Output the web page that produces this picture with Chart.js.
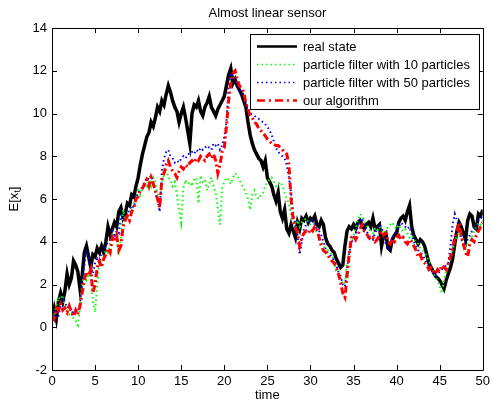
<!DOCTYPE html>
<html>
<head>
<meta charset="utf-8">
<script src="https://cdn.jsdelivr.net/npm/chart.js@4.4.0/dist/chart.umd.min.js"></script>
<style>
html,body{margin:0;padding:0;background:#fff;}
#wrap{width:494px;height:402px;}
</style>
</head>
<body>
<div id="wrap"><canvas id="c" width="494" height="402"></canvas></div>
<script>
// sample times (step 0.25)
const TIME = [];
for (let i = 0; i <= 200; i++) TIME.push(i * 0.25);

const X_TICKS = [0,5,10,15,20,25,30,35,40,45,50];
const Y_TICKS = [-2,0,2,4,6,8,10,12,14];
const SERIES_NAMES = ["real state","particle filter with 10 particles","particle filter with 50 particles","our algorithm"];
const TITLE = "Almost linear sensor";
const X_LABEL = "time";

const REAL_STATE = [
0.5,0.9,0.4,1.2,1.6,1.2,1.7,2.5,2.0,2.3,3.1,2.9,2.6,1.8,2.4,3.5,3.8,3.3,2.8,3.4,
3.3,3.7,3.5,3.8,3.5,4.0,4.7,4.3,4.6,4.9,4.7,5.4,5.6,5.1,5.3,5.8,5.7,6.2,6.1,6.6,
7.0,7.6,8.1,8.5,8.9,9.1,9.6,9.4,9.8,10.3,10.1,10.6,10.4,10.9,11.3,11.0,10.6,10.3,10.1,9.6,
10.0,10.3,9.8,9.2,8.6,10.0,10.4,10.3,10.6,10.1,9.9,10.3,10.5,10.8,10.3,10.1,9.9,10.2,10.4,10.6,
10.8,11.3,11.8,12.1,11.4,11.6,11.3,11.1,10.9,10.6,10.3,9.6,9.0,8.6,8.3,8.1,7.9,7.8,7.5,7.8,
7.0,6.8,6.6,6.2,5.9,6.3,5.4,5.1,5.5,4.6,4.4,4.8,4.5,4.2,4.9,4.6,5.1,5.0,5.2,4.9,
5.1,5.0,5.2,4.8,4.7,5.0,4.8,4.2,3.9,3.8,3.6,3.5,3.2,3.0,2.8,2.9,3.8,4.5,4.7,4.6,
4.8,4.6,4.9,5.0,4.8,4.6,4.8,4.9,4.7,5.1,4.6,4.7,4.8,3.8,4.3,4.4,3.7,3.6,4.1,4.3,
4.4,4.9,5.1,5.2,5.0,5.4,5.7,4.7,4.3,4.1,3.9,4.1,4.0,3.8,3.4,3.0,2.8,2.6,2.4,2.3,
2.2,2.0,1.8,2.2,2.5,2.8,3.2,3.9,4.5,4.9,4.7,4.4,4.1,5.0,5.3,5.2,4.7,4.6,5.3,5.2,
5.5];

const PF10 = [
0.8,0.5,1.0,1.4,1.3,1.5,1.0,0.8,0.6,0.7,0.4,0.3,0.1,0.9,2.1,2.4,2.2,2.5,2.3,1.2,
0.7,2.0,3.1,3.0,3.3,3.6,3.5,3.9,4.3,4.0,4.4,3.4,4.2,5.5,5.0,5.2,5.4,5.6,5.8,6.0,
6.4,6.2,6.5,6.7,6.5,6.9,6.6,7.0,6.8,6.3,5.8,6.7,7.2,7.4,7.0,6.9,6.6,6.8,6.2,5.5,
4.9,6.5,6.9,6.7,6.8,6.6,6.9,7.0,5.8,7.1,6.8,6.9,6.4,6.7,7.0,6.6,6.3,5.6,4.8,6.5,
6.8,7.0,6.9,6.7,7.0,7.2,7.1,6.9,6.7,6.5,6.3,6.0,5.5,6.2,6.4,6.1,6.0,6.2,6.3,6.6,
6.8,6.9,7.0,6.8,6.6,6.7,6.8,6.6,6.3,6.0,5.8,5.2,4.8,4.6,5.0,4.7,4.9,5.0,5.1,4.9,
4.8,4.7,4.6,4.4,4.2,4.0,3.8,3.7,3.6,3.5,3.4,3.0,2.6,2.4,2.3,2.0,2.1,3.0,3.6,4.0,
4.3,4.6,5.0,5.3,5.2,5.0,4.8,4.6,4.5,4.4,4.6,4.5,4.7,4.6,4.4,4.5,4.7,4.8,4.9,4.7,
4.6,4.8,4.6,4.5,4.6,4.4,4.2,4.3,4.1,4.0,3.9,3.7,3.6,3.5,3.3,3.1,2.9,2.6,2.3,2.2,
1.9,1.6,2.2,2.6,2.9,3.2,3.6,4.0,4.3,4.4,4.1,3.9,3.7,3.9,4.0,4.2,4.5,4.7,4.9,4.8,
5.0];

const PF50 = [
0.1,0.6,0.8,0.5,1.0,1.4,1.2,0.9,1.0,0.8,0.6,0.8,0.7,1.1,2.0,2.9,3.6,3.1,2.8,2.5,
3.0,3.2,3.0,3.5,3.6,3.8,4.0,4.1,4.5,4.3,4.5,4.4,5.3,5.0,5.1,5.3,5.5,5.7,5.6,6.0,
6.3,6.4,6.6,6.8,7.0,6.9,7.1,6.8,6.2,6.0,5.4,7.3,7.9,8.2,8.3,8.0,7.9,7.7,7.8,7.7,
7.9,8.0,7.9,8.1,8.1,8.2,8.1,8.3,8.2,8.4,8.3,8.4,8.5,8.4,8.3,8.6,8.5,8.6,8.3,8.5,
8.9,9.6,11.3,11.9,11.7,11.6,11.3,11.1,11.0,10.9,10.5,10.2,10.0,9.95,9.9,9.8,9.75,9.65,9.6,9.5,
9.4,9.2,9.0,8.7,8.4,8.2,8.1,8.0,7.9,7.6,7.0,6.3,5.3,4.8,4.3,3.4,4.0,4.6,4.8,4.9,
5.0,5.0,4.8,4.6,4.5,4.3,4.0,3.7,3.5,3.4,3.3,3.1,2.9,2.6,2.4,2.0,1.9,2.8,3.5,3.9,
4.2,4.4,4.7,5.0,5.1,4.8,4.5,4.3,4.2,4.1,4.4,4.6,4.8,4.7,4.2,3.9,3.6,3.8,4.2,4.4,
4.5,4.7,4.9,4.8,4.7,4.6,4.7,4.3,4.0,3.8,3.6,3.5,3.4,3.2,3.0,2.85,2.7,2.5,2.4,2.5,
2.6,2.7,2.8,2.9,3.0,3.8,4.8,5.3,5.0,4.7,4.2,3.8,4.0,4.1,4.3,4.5,4.6,4.8,5.0,5.1,
5.2];

const OURS = [
0.6,0.4,0.9,0.8,1.1,0.8,0.9,0.7,1.0,0.7,0.5,0.8,0.6,1.0,1.6,2.2,2.6,2.4,2.7,1.6,
2.0,2.8,3.1,2.8,3.2,3.4,3.7,3.5,4.2,4.0,4.3,3.6,3.8,4.7,5.0,5.2,5.0,5.4,5.6,6.0,
6.1,6.4,6.5,6.7,6.9,6.6,7.0,6.7,6.4,6.0,5.6,6.9,7.2,7.6,7.8,7.5,7.3,7.2,7.0,7.3,
7.5,7.4,7.6,7.5,7.7,7.8,7.7,7.9,7.8,8.0,7.9,7.8,8.0,8.1,7.9,8.1,7.8,7.2,7.6,8.2,
8.4,9.4,10.6,11.4,11.9,12.0,11.6,11.3,11.2,11.0,10.5,10.2,9.9,9.8,9.6,9.5,9.3,9.2,9.1,8.95,
8.8,8.7,8.6,8.55,8.5,8.5,8.4,8.3,8.2,8.1,7.6,6.0,5.0,4.7,4.4,3.8,4.2,4.4,4.5,4.4,
4.6,4.5,4.7,4.6,4.2,3.8,3.6,3.5,3.4,3.2,3.1,3.0,2.8,2.5,2.1,1.6,1.4,2.4,3.4,4.2,
4.3,4.1,4.3,4.6,4.8,4.5,4.4,4.2,4.1,4.2,4.0,4.1,4.3,4.5,4.3,4.4,4.0,3.9,4.1,4.0,
4.2,4.3,4.1,4.2,4.0,3.9,4.1,4.0,3.8,3.6,3.3,3.4,3.1,3.0,2.9,2.7,2.8,2.6,2.5,2.7,
2.6,2.9,2.8,2.7,3.0,3.3,3.7,4.2,4.5,4.9,4.3,3.9,3.5,3.3,3.9,4.1,4.0,4.3,4.5,4.7,
4.9];

const FONT = "'Liberation Sans', Arial, Helvetica, sans-serif";
const FS = 13;

function pts(vals){ return vals.map((v,i)=>({x:TIME[i], y:v})); }

const STYLES = [
  {color:'#000000', width:3.5, dash:[],          order:4},
  {color:'#00ff00', width:2,   dash:[1.5,3],     order:3},
  {color:'#0000ff', width:2,   dash:[1.5,3],     order:2},
  {color:'#ff0000', width:3,   dash:[7,3,2,3],   order:1}
];
const DATA = [REAL_STATE, PF10, PF50, OURS];

const datasets = DATA.map((d,k)=>({
  label: SERIES_NAMES[k],
  data: pts(d),
  borderColor: STYLES[k].color,
  borderWidth: STYLES[k].width,
  borderDash: STYLES[k].dash,
  order: STYLES[k].order,
  pointRadius: 0,
  tension: 0,
  fill: false
}));

const boxPlugin = {
  id:'matlabBox',
  afterDatasetsDraw(chart){
    const ctx = chart.ctx, a = chart.chartArea;
    const xs = chart.scales.x, ys = chart.scales.y;
    ctx.save();
    ctx.strokeStyle = '#000'; ctx.lineWidth = 1; ctx.setLineDash([]);
    ctx.beginPath();
    ctx.rect(Math.round(a.left)+0.5, Math.round(a.top)+0.5, Math.round(a.right-a.left), Math.round(a.bottom-a.top));
    ctx.stroke();
    const L = 5;
    ctx.beginPath();
    X_TICKS.forEach(t=>{
      const px = Math.round(xs.getPixelForValue(t))+0.5;
      ctx.moveTo(px, a.bottom); ctx.lineTo(px, a.bottom-L);
      ctx.moveTo(px, a.top); ctx.lineTo(px, a.top+L);
    });
    Y_TICKS.forEach(t=>{
      const py = Math.round(ys.getPixelForValue(t))+0.5;
      ctx.moveTo(a.left, py); ctx.lineTo(a.left+L, py);
      ctx.moveTo(a.right, py); ctx.lineTo(a.right-L, py);
    });
    ctx.stroke();
    ctx.restore();
  },
  afterDraw(chart){
    const ctx = chart.ctx, a = chart.chartArea;
    ctx.save();
    ctx.fillStyle = '#000';
    ctx.font = FS + 'px ' + FONT;
    ctx.textAlign = 'center'; ctx.textBaseline = 'middle';
    ctx.fillText(TITLE, (a.left+a.right)/2, 13);
    ctx.fillText(X_LABEL, (a.left+a.right)/2, 395);
    // y label E[x_t]
    ctx.translate(14, (a.top+a.bottom)/2);
    ctx.rotate(-Math.PI/2);
    ctx.textAlign = 'left';
    const p1 = 'E[x', p3 = ']';
    ctx.font = FS + 'px ' + FONT;
    const w1 = ctx.measureText(p1).width, w3 = ctx.measureText(p3).width;
    ctx.font = '9px ' + FONT;
    const w2 = ctx.measureText('t').width;
    let x0 = -(w1+w2+w3)/2;
    ctx.font = FS + 'px ' + FONT; ctx.fillText(p1, x0, 0);
    ctx.font = '9px ' + FONT; ctx.fillText('t', x0+w1, 4);
    ctx.font = FS + 'px ' + FONT; ctx.fillText(p3, x0+w1+w2, 0);
    ctx.restore();

    // legend
    ctx.save();
    const bx = 250.5, by = 34.5, bw = 229, bh = 75;
    ctx.fillStyle = '#fff';
    ctx.fillRect(bx, by, bw, bh);
    ctx.strokeStyle = '#000'; ctx.lineWidth = 1; ctx.setLineDash([]);
    ctx.strokeRect(bx, by, bw, bh);
    const rows = [46.5, 64.5, 82.5, 100.5];
    ctx.font = FS + 'px ' + FONT;
    ctx.textAlign = 'left'; ctx.textBaseline = 'middle';
    SERIES_NAMES.forEach((name,k)=>{
      const s = STYLES[k];
      ctx.strokeStyle = s.color;
      ctx.lineWidth = k===0 ? 2.5 : (k===3 ? 2.5 : 1.5);
      ctx.setLineDash(k===3 ? [8,4,2,4] : s.dash);
      ctx.beginPath();
      ctx.moveTo(257, rows[k]); ctx.lineTo(297, rows[k]);
      ctx.stroke();
      ctx.setLineDash([]);
      ctx.fillStyle = '#000';
      ctx.fillText(name, 303, rows[k]+0.5);
    });
    ctx.restore();
  }
};

new Chart(document.getElementById('c'), {
  type: 'line',
  data: { datasets },
  options: {
    responsive: false,
    animation: false,
    devicePixelRatio: 1,
    layout: { padding: { top: 28, right: 9, left: 0, bottom: 0 } },
    plugins: { legend: { display: false }, title: { display: false }, tooltip: { enabled: false } },
    scales: {
      x: {
        type: 'linear', min: 0, max: 50,
        afterFit(s){ s.height = 32; },
        afterBuildTicks(s){ s.ticks = X_TICKS.map(v=>({value:v})); },
        grid: { display: false, drawTicks: false },
        border: { display: false },
        ticks: { color:'#000', font:{ family: FONT, size: FS }, padding: 4, maxRotation: 0, autoSkip: false }
      },
      y: {
        type: 'linear', min: -2, max: 14,
        afterFit(s){ s.width = 52; },
        afterBuildTicks(s){ s.ticks = Y_TICKS.map(v=>({value:v})); },
        grid: { display: false, drawTicks: false },
        border: { display: false },
        ticks: { color:'#000', font:{ family: FONT, size: FS }, padding: 5, autoSkip: false }
      }
    }
  },
  plugins: [boxPlugin]
});
</script>
</body>
</html>
